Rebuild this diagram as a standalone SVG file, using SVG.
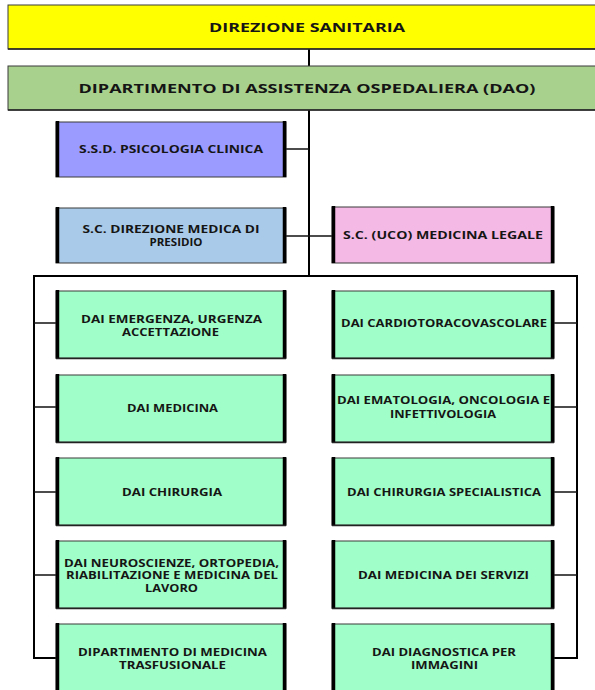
<svg xmlns="http://www.w3.org/2000/svg" width="595" height="690" viewBox="0 0 595 690">
<style>
.t{font-family:"Open Sans","Liberation Sans",sans-serif;font-weight:bold;font-size:10.5px;fill:#151515;text-anchor:middle}
.tb{font-size:12.5px}
.bx{stroke:#3a3a3a;stroke-width:1}
.side{stroke:#000;stroke-width:3.5}
.bot{stroke:#222;stroke-width:1.6}
.ln{stroke:#000;stroke-width:2;fill:none}
.st{stroke:#111;stroke-width:1.5;fill:none}
.g{fill:#A0FFC8}
</style>
<rect width="595" height="690" fill="#fff"/>
<g id="connectors">
<line class="ln" x1="309" y1="49" x2="309" y2="66"/>
<line class="ln" x1="309" y1="110" x2="309" y2="277"/>
<line class="st" x1="286" y1="149" x2="309" y2="149"/>
<line class="st" x1="286" y1="236" x2="332" y2="236"/>
<polyline class="ln" points="34,658 34,276 577,276 577,658"/>
<line class="st" x1="34" y1="323" x2="56" y2="323"/>
<line class="st" x1="34" y1="407" x2="56" y2="407"/>
<line class="st" x1="34" y1="492" x2="56" y2="492"/>
<line class="st" x1="34" y1="575" x2="56" y2="575"/>
<line class="ln" x1="33" y1="658" x2="56" y2="658"/>
<line class="st" x1="554" y1="323" x2="577" y2="323"/>
<line class="st" x1="554" y1="407" x2="577" y2="407"/>
<line class="st" x1="554" y1="492" x2="577" y2="492"/>
<line class="st" x1="554" y1="575" x2="577" y2="575"/>
<line class="ln" x1="554" y1="658" x2="578" y2="658"/>
</g>
<g id="direzione-sanitaria">
<rect class="bx" x="8" y="5" width="600" height="44" fill="#FFFF00"/>
<line class="bot" x1="8" y1="49" x2="600" y2="49"/>
<text class="t tb" x="307" y="31.5" textLength="196" lengthAdjust="spacingAndGlyphs">DIREZIONE SANITARIA</text>
</g>
<g id="dao">
<rect class="bx" x="8" y="66" width="600" height="44" fill="#A9D18E"/>
<line class="bot" x1="8" y1="110" x2="600" y2="110"/>
<text class="t tb" x="307" y="92.5" textLength="457" lengthAdjust="spacingAndGlyphs">DIPARTIMENTO DI ASSISTENZA OSPEDALIERA (DAO)</text>
</g>
<g id="psicologia">
<rect class="bx" x="56" y="122" width="230" height="55" fill="#9B9BFF"/>
<line class="side" x1="57.5" y1="121" x2="57.5" y2="177"/><line class="side" x1="284.5" y1="121" x2="284.5" y2="177"/>
<text class="t" x="171" y="153" textLength="184" lengthAdjust="spacingAndGlyphs">S.S.D. PSICOLOGIA CLINICA</text>
</g>
<g id="direzione-medica">
<rect class="bx" x="56" y="208" width="230" height="55" fill="#A9CAE8"/>
<line class="side" x1="57.5" y1="207" x2="57.5" y2="263"/><line class="side" x1="284.5" y1="207" x2="284.5" y2="263"/>
<text class="t" x="171" y="233" textLength="177" lengthAdjust="spacingAndGlyphs">S.C. DIREZIONE MEDICA DI</text>
<text class="t" x="176" y="246" textLength="53" lengthAdjust="spacingAndGlyphs">PRESIDIO</text>
</g>
<g id="medicina-legale">
<rect class="bx" x="332" y="207" width="222" height="56" fill="#F5B9E5"/>
<line class="side" x1="333.5" y1="206" x2="333.5" y2="263"/><line class="side" x1="552.5" y1="206" x2="552.5" y2="263"/>
<text class="t" x="443" y="239" textLength="200" lengthAdjust="spacingAndGlyphs">S.C. (UCO) MEDICINA LEGALE</text>
</g>
<g id="dai-emergenza">
<rect class="bx g" x="56" y="291" width="230" height="67"/>
<line class="side" x1="57.5" y1="290" x2="57.5" y2="359"/><line class="side" x1="284.5" y1="290" x2="284.5" y2="359"/><line class="bot" x1="56" y1="358.5" x2="286" y2="358.5"/>
<text class="t" x="171.5" y="323" textLength="181" lengthAdjust="spacingAndGlyphs">DAI EMERGENZA, URGENZA</text>
<text class="t" x="170.5" y="336" textLength="97" lengthAdjust="spacingAndGlyphs">ACCETTAZIONE</text>
</g>
<g id="dai-medicina">
<rect class="bx g" x="56" y="375" width="230" height="67"/>
<line class="side" x1="57.5" y1="374" x2="57.5" y2="443"/><line class="side" x1="284.5" y1="374" x2="284.5" y2="443"/><line class="bot" x1="56" y1="442.5" x2="286" y2="442.5"/>
<text class="t" x="172.5" y="412" textLength="91" lengthAdjust="spacingAndGlyphs">DAI MEDICINA</text>
</g>
<g id="dai-chirurgia">
<rect class="bx g" x="56" y="458" width="230" height="67"/>
<line class="side" x1="57.5" y1="457" x2="57.5" y2="526"/><line class="side" x1="284.5" y1="457" x2="284.5" y2="526"/><line class="bot" x1="56" y1="525.5" x2="286" y2="525.5"/>
<text class="t" x="172" y="496" textLength="100" lengthAdjust="spacingAndGlyphs">DAI CHIRURGIA</text>
</g>
<g id="dai-neuroscienze">
<rect class="bx g" x="56" y="541" width="230" height="67"/>
<line class="side" x1="57.5" y1="540" x2="57.5" y2="609"/><line class="side" x1="284.5" y1="540" x2="284.5" y2="609"/><line class="bot" x1="56" y1="608.5" x2="286" y2="608.5"/>
<text class="t" x="171.5" y="566.5" textLength="215" lengthAdjust="spacingAndGlyphs">DAI NEUROSCIENZE, ORTOPEDIA,</text>
<text class="t" x="172" y="579" textLength="212" lengthAdjust="spacingAndGlyphs">RIABILITAZIONE E MEDICINA DEL</text>
<text class="t" x="171.5" y="591.5" textLength="53" lengthAdjust="spacingAndGlyphs">LAVORO</text>
</g>
<g id="dip-trasfusionale">
<rect class="bx g" x="56" y="624" width="230" height="70"/>
<line class="side" x1="57.5" y1="623" x2="57.5" y2="694"/><line class="side" x1="284.5" y1="623" x2="284.5" y2="694"/>
<text class="t" x="172.5" y="656" textLength="189" lengthAdjust="spacingAndGlyphs">DIPARTIMENTO DI MEDICINA</text>
<text class="t" x="172.5" y="668.5" textLength="107" lengthAdjust="spacingAndGlyphs">TRASFUSIONALE</text>
</g>
<g id="dai-cardio">
<rect class="bx g" x="332" y="291" width="222" height="67"/>
<line class="side" x1="333.5" y1="290" x2="333.5" y2="359"/><line class="side" x1="552.5" y1="290" x2="552.5" y2="359"/><line class="bot" x1="332" y1="358.5" x2="554" y2="358.5"/>
<text class="t" x="444" y="327" textLength="206" lengthAdjust="spacingAndGlyphs">DAI CARDIOTORACOVASCOLARE</text>
</g>
<g id="dai-ematologia">
<rect class="bx g" x="332" y="375" width="222" height="67"/>
<line class="side" x1="333.5" y1="374" x2="333.5" y2="443"/><line class="side" x1="552.5" y1="374" x2="552.5" y2="443"/><line class="bot" x1="332" y1="442.5" x2="554" y2="442.5"/>
<text class="t" x="443.5" y="404" textLength="213" lengthAdjust="spacingAndGlyphs">DAI EMATOLOGIA, ONCOLOGIA E</text>
<text class="t" x="443" y="418" textLength="106" lengthAdjust="spacingAndGlyphs">INFETTIVOLOGIA</text>
</g>
<g id="dai-chirurgia-spec">
<rect class="bx g" x="332" y="458" width="222" height="67"/>
<line class="side" x1="333.5" y1="457" x2="333.5" y2="526"/><line class="side" x1="552.5" y1="457" x2="552.5" y2="526"/><line class="bot" x1="332" y1="525.5" x2="554" y2="525.5"/>
<text class="t" x="444" y="496" textLength="194" lengthAdjust="spacingAndGlyphs">DAI CHIRURGIA SPECIALISTICA</text>
</g>
<g id="dai-medicina-servizi">
<rect class="bx g" x="332" y="541" width="222" height="67"/>
<line class="side" x1="333.5" y1="540" x2="333.5" y2="609"/><line class="side" x1="552.5" y1="540" x2="552.5" y2="609"/><line class="bot" x1="332" y1="608.5" x2="554" y2="608.5"/>
<text class="t" x="443.5" y="579" textLength="171" lengthAdjust="spacingAndGlyphs">DAI MEDICINA DEI SERVIZI</text>
</g>
<g id="dai-diagnostica">
<rect class="bx g" x="332" y="624" width="222" height="70"/>
<line class="side" x1="333.5" y1="623" x2="333.5" y2="694"/><line class="side" x1="552.5" y1="623" x2="552.5" y2="694"/>
<text class="t" x="444" y="656" textLength="144" lengthAdjust="spacingAndGlyphs">DAI DIAGNOSTICA PER</text>
<text class="t" x="444.5" y="668.5" textLength="67" lengthAdjust="spacingAndGlyphs">IMMAGINI</text>
</g>
</svg>
